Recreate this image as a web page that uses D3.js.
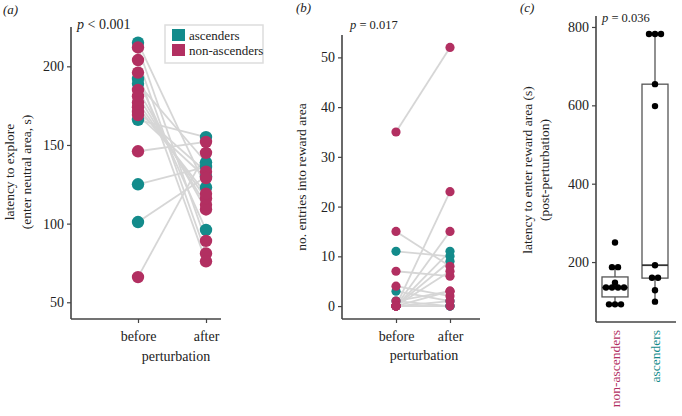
<!DOCTYPE html>
<html><head><meta charset="utf-8">
<script src="https://cdn.jsdelivr.net/npm/d3@7"></script>
<style>body{margin:0;background:#fff}svg{display:block}text{font-family:"Liberation Serif","DejaVu Serif",serif;fill:#222}</style>
</head><body>
<svg id="c" width="682" height="416"></svg>
<script>
// ---------- data ----------
const periods = ["before", "after"];
const groups = ["ascenders", "non-ascenders"];
// panel a: latency to explore (s), one entry per animal
const latGroup  = ["A","A","A","A","A","A","N","N","N","N","N","N","N","N","N","N","N"];
const latBefore = [215,192,189,166,125,101,212,204,196,185,181,177,174,171,169,146,66];
const latAfter  = [123, 96,139,155,136,130, 89, 81, 76,109,112,116,119,133,129,152,145];
// panel b: number of entries into reward area
const entGroup  = ["A","A","A","A","A","A","N","N","N","N","N","N","N","N","N","N","N"];
const entBefore = [11, 3, 0, 0, 1, 0,35,15, 7, 4, 1, 0, 0, 0, 0, 0, 0];
const entAfter  = [10, 1,11, 9, 0, 0,52, 8, 6, 2, 3,23,15, 7, 3, 0, 1];
// panel c: latency to enter reward area post-perturbation (s)
const boxCats = ["non-ascenders", "ascenders"];
const nonAscPts = [250,187,187,147,135,135,135,135,92,92,92];
const ascPts    = [782,782,782,654,598,192,160,160,128,99];
const boxLow    = [92, 99];
const boxQ1     = [111, 159];
const boxMed    = [135, 192];
const boxQ3     = [162, 654];
const boxHigh   = [187, 782];
const ticksA = [50,100,150,200];
const ticksB = [0,10,20,30,40,50];
const ticksC = [200,400,600,800];
const pTexts = ["< 0.001", "= 0.017", "= 0.036"];

const TEAL = "#138b8b", PINK = "#b22f61", LINE = "#d6d6d6", AX = "#444";
const col = g => g === "A" ? TEAL : PINK;
const svg = d3.select("#c");

function styleAxis(g) {
  g.selectAll(".domain").attr("stroke", AX).attr("stroke-width", 1.6);
  g.selectAll(".tick line").attr("stroke", AX).attr("stroke-width", 1.2);
  g.selectAll(".tick text").style("font-family", "Liberation Serif").style("font-size", "14px").attr("fill", "#222");
}
function axes(x, y, yTicks, x0, x1, y0, y1) {
  const gy = svg.append("g").attr("transform", `translate(${x0},0)`)
    .call(d3.axisLeft(y).tickValues(yTicks).tickSize(4).tickSizeOuter(0));
  gy.select(".domain").attr("d", `M0,${y0}V${y1}`);
  styleAxis(gy);
  const gx = svg.append("g").attr("transform", `translate(0,${y1})`)
    .call(d3.axisBottom(x).tickSize(4).tickSizeOuter(0).tickPadding(8));
  gx.select(".domain").attr("d", `M${x0},0H${x1}`);
  styleAxis(gx);
  return gx;
}
function pairedPanel(groupArr, bef, aft, x, y, r) {
  const idx = d3.range(bef.length);
  svg.append("g").selectAll("line").data(idx).join("line")
    .attr("x1", x("before")).attr("x2", x("after"))
    .attr("y1", i => y(bef[i])).attr("y2", i => y(aft[i]))
    .attr("stroke", LINE).attr("stroke-width", 1.8);
  const pts = [];
  idx.forEach(i => { pts.push({p:"before", v:bef[i], g:groupArr[i]}); pts.push({p:"after", v:aft[i], g:groupArr[i]}); });
  // draw ascenders under non-ascenders alternately as in the source
  svg.append("g").selectAll("circle").data(pts).join("circle")
    .attr("cx", d => x(d.p)).attr("cy", d => y(d.v)).attr("r", r)
    .attr("fill", d => col(d.g));
}

// ---------- panel a ----------
{
  const x = d3.scalePoint().domain(periods).range([138, 206]);
  const y = d3.scaleLinear().domain([40, 225]).range([318, 27]);
  pairedPanel(latGroup, latBefore, latAfter, x, y, 6.2);
  axes(x, y, ticksA, 71, 221, 27, 319);
  svg.append("text").attr("x", 3).attr("y", 14).style("font-style", "italic").style("font-size", "13px").text("(a)");
  const t = svg.append("text").attr("x", 77).attr("y", 29).style("font-size", "14px");
  t.append("tspan").style("font-style", "italic").text("p");
  t.append("tspan").text(" " + pTexts[0]);
  svg.append("text").attr("transform", "translate(14,172) rotate(-90)").attr("text-anchor", "middle").style("font-size", "13.5px").text("latency to explore");
  svg.append("text").attr("transform", "translate(31,172) rotate(-90)").attr("text-anchor", "middle").style("font-size", "13.5px").text("(enter neutral area, s)");
  svg.append("text").attr("x", 176).attr("y", 361).attr("text-anchor", "middle").style("font-size", "14px").text("perturbation");
  // legend
  const lg = svg.append("g");
  lg.append("rect").attr("x", 165).attr("y", 25).attr("width", 98).attr("height", 38).attr("fill", "#fff").attr("stroke", "#ddd").attr("stroke-width", 1.5);
  groups.forEach((g, i) => {
    lg.append("rect").attr("x", 172).attr("y", 29 + i * 15).attr("width", 13).attr("height", 12).attr("fill", i === 0 ? TEAL : PINK);
    lg.append("text").attr("x", 189).attr("y", 40 + i * 15).style("font-size", "13px").text(g);
  });
}

// ---------- panel b ----------
{
  const x = d3.scalePoint().domain(periods).range([396, 450]);
  const y = d3.scaleLinear().domain([-2.6, 54.5]).range([319, 35]);
  pairedPanel(entGroup, entBefore, entAfter, x, y, 4.6);
  axes(x, y, ticksB, 342, 480, 35, 319);
  svg.append("text").attr("x", 296).attr("y", 12).style("font-style", "italic").style("font-size", "13px").text("(b)");
  const t = svg.append("text").attr("x", 350).attr("y", 29).style("font-size", "12.5px");
  t.append("tspan").style("font-style", "italic").text("p");
  t.append("tspan").text(" " + pTexts[1]);
  svg.append("text").attr("transform", "translate(306,177) rotate(-90)").attr("text-anchor", "middle").style("font-size", "13.5px").text("no. entries into reward area");
  svg.append("text").attr("x", 424).attr("y", 360).attr("text-anchor", "middle").style("font-size", "14px").text("perturbation");
}

// ---------- panel c ----------
{
  const x = d3.scalePoint().domain(boxCats).range([615, 655]);
  const y = d3.scaleLinear().domain([47, 828]).range([322, 16]);
  const bw = 26;
  const g = svg.append("g");
  boxCats.forEach((c, i) => {
    const cx = x(c);
    g.append("line").attr("x1", cx).attr("x2", cx).attr("y1", y(boxHigh[i])).attr("y2", y(boxQ3[i])).attr("stroke", "#555").attr("stroke-width", 1.3);
    g.append("line").attr("x1", cx).attr("x2", cx).attr("y1", y(boxQ1[i])).attr("y2", y(boxLow[i])).attr("stroke", "#555").attr("stroke-width", 1.3);
    g.append("rect").attr("x", cx - bw / 2).attr("width", bw).attr("y", y(boxQ3[i])).attr("height", y(boxQ1[i]) - y(boxQ3[i]))
      .attr("fill", "#fff").attr("stroke", "#555").attr("stroke-width", 1.3);
    g.append("line").attr("x1", cx - bw / 2).attr("x2", cx + bw / 2).attr("y1", y(boxMed[i])).attr("y2", y(boxMed[i])).attr("stroke", "#333").attr("stroke-width", 1.8);
  });
  // dots, equal values spread side by side
  [nonAscPts, ascPts].forEach((arr, i) => {
    const counts = d3.rollup(arr, v => v.length, d => d);
    const seen = new Map();
    const pts = arr.map(v => {
      const k = seen.get(v) || 0; seen.set(v, k + 1);
      const n = counts.get(v);
      return {v, dx: (k - (n - 1) / 2) * 6};
    });
    g.selectAll(null).data(pts).join("circle")
      .attr("cx", d => x(boxCats[i]) + d.dx).attr("cy", d => y(d.v)).attr("r", 3.2).attr("fill", "#000");
  });
  const gy = svg.append("g").attr("transform", "translate(596,0)")
    .call(d3.axisLeft(y).tickValues(ticksC).tickSize(4).tickSizeOuter(0));
  gy.select(".domain").attr("d", "M0,16V322");
  styleAxis(gy);
  svg.append("path").attr("d", "M596,322H676").attr("stroke", AX).attr("stroke-width", 1.6);
  boxCats.forEach((c, i) => {
    svg.append("text").attr("transform", `translate(${x(c) + 5},330) rotate(-90)`).attr("text-anchor", "end")
      .style("font-size", "13.5px").attr("fill", i === 0 ? PINK : TEAL).style("fill", i === 0 ? PINK : TEAL).text(c);
  });
  svg.append("text").attr("x", 520).attr("y", 12).style("font-style", "italic").style("font-size", "13px").text("(c)");
  const t = svg.append("text").attr("x", 602).attr("y", 22).style("font-size", "12.5px");
  t.append("tspan").style("font-style", "italic").text("p");
  t.append("tspan").text(" " + pTexts[2]);
  svg.append("text").attr("transform", "translate(532,170) rotate(-90)").attr("text-anchor", "middle").style("font-size", "13.5px").text("latency to enter reward area (s)");
  svg.append("text").attr("transform", "translate(549,170) rotate(-90)").attr("text-anchor", "middle").style("font-size", "13.5px").text("(post-perturbation)");
}
</script>
</body></html>
